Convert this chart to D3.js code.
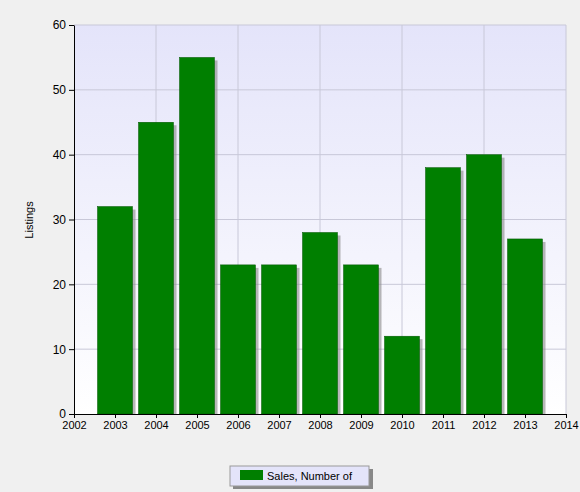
<!DOCTYPE html>
<html><head><meta charset="utf-8">
<script src="https://cdn.jsdelivr.net/npm/d3@7"></script>
<style>body{margin:0;background:#f0f0f0;font-family:"Liberation Sans",Arial,sans-serif;}</style>
</head><body><div id="chart"></div>
<script>
// data
var years = [2003, 2004, 2005, 2006, 2007, 2008, 2009, 2010, 2011, 2012, 2013];
var sales = [32, 45, 55, 23, 23, 28, 23, 12, 38, 40, 27];
var yTicks = [0, 10, 20, 30, 40, 50, 60];
var xTicks = d3.range(2002, 2015);

var svg = d3.select("#chart").append("svg").attr("width", 580).attr("height", 492);
var defs = svg.append("defs");
var grad = defs.append("linearGradient").attr("id", "bg").attr("x1", 0).attr("y1", 0).attr("x2", 0).attr("y2", 1);
grad.append("stop").attr("offset", "0%").attr("stop-color", "#e4e4fa");
grad.append("stop").attr("offset", "100%").attr("stop-color", "#ffffff");

var x = d3.scaleLinear().domain([2002, 2014]).range([74, 566]);
var y = d3.scaleLinear().domain([0, 60]).range([414, 25]);

svg.append("rect").attr("x", 74).attr("y", 25).attr("width", 492).attr("height", 389).attr("fill", "url(#bg)");

// grid
svg.append("g").selectAll("line").data(yTicks.slice(1)).join("line")
  .attr("x1", 74).attr("x2", 566).attr("y1", d => y(d)).attr("y2", d => y(d))
  .attr("stroke", "#c8c8d8");
svg.append("g").selectAll("line").data([2004, 2006, 2008, 2010, 2012, 2014]).join("line")
  .attr("x1", d => x(d)).attr("x2", d => x(d)).attr("y1", 25).attr("y2", 414)
  .attr("stroke", "#c8c8d8");

var bw = 35;
// shadows
svg.append("g").selectAll("rect").data(years).join("rect")
  .attr("x", d => x(d) - bw / 2 + 3).attr("y", (d, i) => y(sales[i]) + 3)
  .attr("width", bw).attr("height", (d, i) => 414 - y(sales[i]) - 3)
  .attr("fill", "#888").attr("opacity", 0.6);
svg.append("g").selectAll("rect").data(years).join("rect")
  .attr("x", d => x(d) - bw / 2).attr("y", (d, i) => y(sales[i]))
  .attr("width", bw).attr("height", (d, i) => 414 - y(sales[i]))
  .attr("fill", "#007f00").attr("stroke", "#005500").attr("stroke-width", 0.5);

svg.append("g").attr("transform", "translate(74,0)")
  .call(d3.axisLeft(y).tickValues(yTicks).tickSize(5).tickSizeOuter(0))
  .call(g => g.selectAll("text").attr("font-size", 12).attr("fill", "#000").attr("font-family", "Liberation Sans"))
  .call(g => g.select(".domain").attr("stroke", "#000"));
svg.append("g").attr("transform", "translate(0,414)")
  .call(d3.axisBottom(x).tickValues(xTicks).tickFormat(d3.format("d")).tickSize(4).tickSizeOuter(0))
  .call(g => g.selectAll("text").attr("font-size", 11).attr("fill", "#000").attr("font-family", "Liberation Sans"))
  .call(g => g.select(".domain").attr("stroke", "#000"));

svg.append("text").attr("transform", "translate(33,220) rotate(-90)").attr("text-anchor", "middle")
  .attr("font-size", 11).text("Listings");

// legend
svg.append("rect").attr("x", 233).attr("y", 469).attr("width", 140).attr("height", 20).attr("fill", "#888");
svg.append("rect").attr("x", 230).attr("y", 466).attr("width", 139).attr("height", 20)
  .attr("fill", "#e4e4fa").attr("stroke", "#999");
svg.append("rect").attr("x", 240).attr("y", 470).attr("width", 23).attr("height", 10).attr("fill", "#007f00");
svg.append("text").attr("x", 267).attr("y", 480).attr("font-size", 11).text("Sales, Number of");
</script></body></html>
